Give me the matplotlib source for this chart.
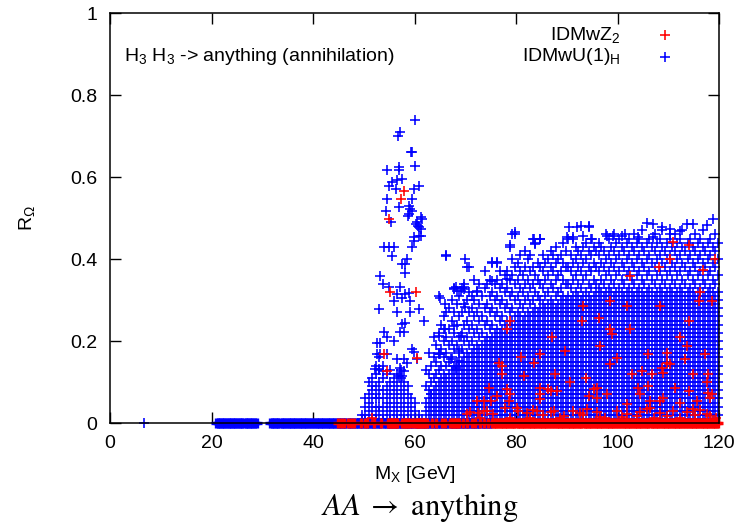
import numpy as np
import matplotlib
matplotlib.use("Agg")
import matplotlib.pyplot as plt

plt.rcParams['font.family'] = ['Liberation Sans', 'DejaVu Sans']
plt.rcParams['mathtext.fontset'] = 'custom'
plt.rcParams['mathtext.rm'] = 'Liberation Sans'
plt.rcParams['mathtext.it'] = 'Liberation Sans:italic'
plt.rcParams['mathtext.sf'] = 'Liberation Sans'

# ---------------- data ----------------
# masses (GeV) of blue points lying at R = 0
blue_zero_x = [
    20.9, 21.2, 21.4, 21.7, 22.0, 22.3, 22.5, 22.8, 23.1, 23.4, 23.6, 23.9, 24.2, 24.5, 24.7,
    25.0, 25.3, 25.6, 25.8, 26.1, 26.4, 26.7, 26.9, 27.2, 27.5, 27.8, 28.0, 28.3, 28.6, 28.9,
    31.6, 31.9, 32.1, 32.4, 32.7, 33.0, 33.2, 33.5, 33.8, 34.1, 34.3, 34.6, 34.9, 35.2, 35.4,
    35.7, 36.0, 36.3, 36.5, 36.8, 37.1, 37.4, 37.6, 37.9, 38.2, 38.5, 38.7, 39.0, 39.3, 39.6,
    39.8, 40.1, 40.4, 40.7, 40.9, 41.2, 41.5, 41.8, 42.0, 42.3, 42.6, 42.9, 43.1, 43.4, 43.7,
    44.0, 44.2, 44.5, 44.8, 45.1, 45.3, 45.6, 45.9, 46.2, 46.4, 46.7, 47.0, 47.3, 47.5, 47.8,
    48.1, 48.4, 48.6, 48.9, 49.2, 49.5, 49.7, 50.0, 50.3, 50.6, 50.8, 51.1, 51.4, 51.7, 51.9,
    52.2, 52.5, 52.8, 53.0, 53.3, 53.6, 53.9, 54.1, 54.4, 54.7, 55.0, 55.2, 55.5, 55.8, 56.1,
    56.3, 56.6, 56.9, 57.2, 57.4, 57.7, 58.0, 58.3, 58.5, 58.8, 59.1, 59.4, 59.6, 59.9, 60.2,
    60.5, 60.7, 61.0, 61.3, 61.6, 61.8, 62.1, 62.4, 62.7, 62.9, 63.2, 63.5, 63.8, 64.0, 64.3,
    64.6, 64.9, 65.1, 65.4, 65.7, 66.0, 66.2, 66.5, 66.8, 67.1, 67.3, 67.6, 67.9, 68.2, 68.4,
    68.7, 69.0, 69.3, 69.5, 69.8, 70.1, 70.4, 70.6, 70.9, 71.2, 71.5, 71.7, 72.0, 72.3, 72.6,
    72.8, 73.1, 73.4, 73.7, 73.9, 74.2, 74.5, 74.8, 75.0,
]
blue_single_x = [6.7]

# masses (GeV) of red points lying at R = 0
red_zero_x = [
    44.9, 45.5, 46.2, 46.8, 47.5, 48.1, 49.5, 50.3, 50.7, 52.0, 53.4,
    54.7, 55.0, 55.3, 55.5, 55.8, 56.1, 56.4, 56.6, 57.6, 57.9, 58.2, 58.5, 58.8, 59.1,
    59.8, 60.1, 60.4, 60.6, 60.9, 61.2, 61.5, 61.8, 62.1, 62.4, 63.5, 64.2, 65.5, 66.1,
    67.0, 67.3, 67.6, 67.9, 68.2, 68.5, 68.8, 69.6, 70.4, 71.3, 72.0, 72.9, 73.7, 74.5,
    75.3, 75.6, 75.9, 76.1, 76.4, 76.7, 77.0, 77.2, 77.5, 77.8, 78.1, 78.3, 78.6, 78.9, 79.2,
    79.4, 79.7, 80.0, 80.3, 80.5, 80.8, 81.1, 81.4, 81.6, 81.9, 82.2, 82.5, 82.7, 83.0, 83.3,
    83.6, 83.8, 84.1, 84.4, 84.7, 84.9, 85.2, 85.5, 85.8, 86.0, 86.3, 86.6, 86.9, 87.1, 87.4,
    87.7, 88.0, 88.2, 88.5, 88.8, 89.1, 89.3, 89.6, 89.9, 90.2, 90.4, 90.7, 91.0, 91.3, 91.5,
    91.8, 92.1, 92.4, 92.6, 92.9, 93.2, 93.5, 93.7, 94.0, 94.3, 94.6, 94.8, 95.1, 95.4, 95.7,
    95.9, 96.2, 96.5, 96.8, 97.0, 97.3, 97.6, 97.9, 98.1, 98.4, 98.7, 99.0, 99.2, 99.5, 99.8,
    100.1, 100.3, 100.6, 100.9, 101.2, 101.4, 101.7, 102.0, 102.3, 102.5, 102.8, 103.1, 103.4,
    103.6, 103.9, 104.2, 104.5, 104.7, 105.0, 105.3, 105.6, 105.8, 106.1, 106.4, 106.7, 106.9,
    107.2, 107.5, 107.8, 108.0, 108.3, 108.6, 108.9, 109.1, 109.4, 109.7, 110.0, 110.2, 110.5,
    110.8, 111.1, 111.3, 111.6, 111.9, 112.2, 112.4, 112.7, 113.0, 113.3, 113.5, 113.8, 114.1,
    114.4, 114.6, 114.9, 115.2, 115.5, 115.7, 116.0, 116.3, 116.6, 116.8, 117.1, 117.4, 117.7,
    117.9, 118.2, 118.5, 118.8, 119.0, 119.3, 119.6, 119.9,
]

# blue scan columns: mass (GeV) and R values in units of 0.01
blue_col_x = [
    49.6, 50.3, 51.0, 51.7, 52.4, 53.1, 53.8, 54.5, 55.2, 55.9, 56.6, 57.3, 58.0, 58.7, 59.4,
    60.1, 60.8, 61.5,
    62.3, 62.8, 63.3, 63.8, 64.3, 64.8, 65.3, 65.8, 66.3, 66.8, 67.3, 67.8, 68.3, 68.8, 69.3,
    69.8, 70.3, 70.8, 71.3, 71.8, 72.3, 72.8, 73.3, 73.8, 74.3, 74.8, 75.3, 75.8, 76.3, 76.8,
    77.3, 77.8, 78.3, 78.8, 79.3, 79.8, 80.3, 80.8, 81.3, 81.8, 82.3, 82.8, 83.3, 83.8, 84.3,
    84.8, 85.3, 85.8, 86.3, 86.8, 87.3, 87.8, 88.3, 88.8, 89.3, 89.8, 90.3, 90.8, 91.3, 91.8,
    92.3, 92.8, 93.3, 93.8, 94.3, 94.8, 95.3, 95.8, 96.3, 96.8, 97.3, 97.8, 98.3, 98.8, 99.3,
    99.8, 100.3, 100.8, 101.3, 101.8, 102.3, 102.8, 103.3, 103.8, 104.3, 104.8, 105.3, 105.8,
    106.3, 106.8, 107.3, 107.8, 108.3, 108.8, 109.3, 109.8, 110.3, 110.8, 111.3, 111.8, 112.3,
    112.8, 113.3, 113.8, 114.3, 114.8, 115.3, 115.8, 116.3, 116.8, 117.3, 117.8, 118.3, 118.8,
    119.3, 119.8,
]
blue_col_r = [
    # 49.6 - 61.5 (base of the resonance peak)
    [1, 2], [1, 2, 4, 6], [1, 3, 5, 7, 10], [1, 2, 4, 6, 8, 9, 11], [1, 2, 4, 6, 7, 9, 12, 14],
    [1, 3, 4, 6, 8, 10, 13, 16], [1, 2, 4, 6, 8, 11, 14], [1, 3, 5, 7, 9, 12], [1, 2, 4, 6, 8, 10, 13],
    [1, 3, 5, 7, 9, 11], [1, 2, 4, 6, 8, 10, 12], [1, 3, 5, 7, 9, 11, 13], [1, 2, 4, 6, 8, 10],
    [1, 3, 5, 7, 9], [1, 2, 4, 6], [1, 3, 5], [1, 2], [1],
    # 62.3 - 79.8
    [1, 3, 5, 9, 13], [2, 4, 6, 8, 12, 17], [1, 3, 5, 7, 10, 14], [2, 4, 6, 8, 11, 16, 21],
    [1, 3, 5, 7, 9, 12, 15, 19], [2, 4, 6, 8, 10, 13, 17, 22, 31], [1, 3, 5, 7, 9, 11, 14, 18, 24],
    [2, 4, 6, 8, 10, 12, 16, 20, 26], [1, 3, 5, 7, 9, 11, 14, 17, 21, 27, 41],
    [2, 4, 6, 8, 10, 12, 15, 19, 23, 28], [1, 3, 5, 7, 9, 11, 13, 16, 20, 25, 30],
    [2, 4, 6, 8, 10, 12, 14, 18, 22, 27, 33], [1, 3, 5, 7, 9, 11, 13, 15, 19, 24, 29],
    [2, 4, 6, 8, 10, 12, 14, 17, 21, 26, 31], [1, 3, 5, 7, 9, 11, 13, 15, 18, 22, 27, 33],
    [2, 4, 6, 8, 10, 12, 14, 16, 20, 24, 29, 34], [1, 3, 5, 7, 9, 11, 13, 15, 17, 21, 25, 30, 38],
    [2, 4, 6, 8, 10, 12, 14, 16, 19, 23, 27, 32], [1, 3, 5, 7, 9, 11, 13, 15, 17, 20, 24, 28, 31],
    [2, 4, 6, 8, 10, 12, 14, 16, 18, 22, 26, 30, 35], [1, 3, 5, 7, 9, 11, 13, 15, 17, 19, 23, 27, 32],
    [2, 4, 6, 8, 10, 12, 14, 16, 18, 21, 25, 29, 34], [1, 3, 5, 7, 9, 11, 13, 15, 17, 19, 22, 26, 31],
    [2, 4, 6, 8, 10, 12, 14, 16, 18, 20, 24, 28, 33, 37],
    [1, 3, 5, 7, 9, 11, 13, 15, 17, 19, 21, 25, 29, 34],
    [2, 4, 6, 8, 10, 12, 14, 16, 18, 20, 23, 27, 31, 35],
    [1, 3, 5, 7, 9, 11, 13, 15, 17, 19, 21, 24, 28, 32, 39],
    [2, 4, 6, 8, 10, 12, 14, 16, 18, 20, 22, 26, 30, 34],
    [1, 3, 5, 7, 9, 11, 13, 15, 17, 19, 21, 23, 27, 31, 35, 39],
    [2, 4, 6, 8, 10, 12, 14, 16, 18, 20, 22, 25, 29, 33, 37],
    [1, 3, 5, 7, 9, 11, 13, 15, 17, 19, 21, 23, 26, 30, 34],
    [2, 4, 6, 8, 10, 12, 14, 16, 18, 20, 22, 24, 28, 32, 36],
    [1, 3, 5, 7, 9, 11, 13, 15, 17, 19, 21, 23, 25, 29, 33, 37],
    [2, 4, 6, 8, 10, 12, 14, 16, 18, 20, 22, 24, 27, 31, 35, 43],
    [1, 3, 5, 7, 9, 11, 13, 15, 17, 19, 21, 23, 25, 28, 32, 36, 40],
    [2, 4, 6, 8, 10, 12, 14, 16, 18, 20, 22, 24, 26, 30, 34, 38, 46],
    # 80.3 - 99.8
    [1, 3, 5, 7, 9, 11, 13, 15, 17, 19, 21, 23, 25, 27, 31, 35, 39],
    [2, 4, 6, 8, 10, 12, 14, 16, 18, 20, 22, 24, 26, 29, 33, 37, 41],
    [1, 3, 5, 7, 9, 11, 13, 15, 17, 19, 21, 23, 25, 28, 32, 36],
    [2, 4, 6, 8, 10, 12, 14, 16, 18, 20, 22, 24, 26, 30, 34, 38, 42],
    [1, 3, 5, 7, 9, 11, 13, 15, 17, 19, 21, 23, 25, 27, 31, 35, 40],
    [2, 4, 6, 8, 10, 12, 14, 16, 18, 20, 22, 24, 26, 29, 33, 37, 41],
    [1, 3, 5, 7, 9, 11, 13, 15, 17, 19, 21, 23, 25, 27, 30, 34, 38, 45],
    [2, 4, 6, 8, 10, 12, 14, 16, 18, 20, 22, 24, 26, 28, 32, 36, 44],
    [1, 3, 5, 7, 9, 11, 13, 15, 17, 19, 21, 23, 25, 27, 31, 35, 39],
    [2, 4, 6, 8, 10, 12, 14, 16, 18, 20, 22, 24, 26, 28, 30, 34, 38, 45],
    [1, 3, 5, 7, 9, 11, 13, 15, 17, 19, 21, 23, 25, 27, 29, 33, 37, 41],
    [2, 4, 6, 8, 10, 12, 14, 16, 18, 20, 22, 24, 26, 28, 31, 35, 39],
    [1, 3, 5, 7, 9, 11, 13, 15, 17, 19, 21, 23, 25, 27, 29, 32, 36, 40],
    [2, 4, 6, 8, 10, 12, 14, 16, 18, 20, 22, 24, 26, 28, 30, 34, 38, 42],
    [1, 3, 5, 7, 9, 11, 13, 15, 17, 19, 21, 23, 25, 27, 29, 33, 37, 41],
    [2, 4, 6, 8, 10, 12, 14, 16, 18, 20, 22, 24, 26, 28, 31, 35, 39, 43],
    [1, 3, 5, 7, 9, 11, 13, 15, 17, 19, 21, 23, 25, 27, 29, 32, 36, 40],
    [2, 4, 6, 8, 10, 12, 14, 16, 18, 20, 22, 24, 26, 28, 30, 33, 37, 41],
    [1, 3, 5, 7, 9, 11, 13, 15, 17, 19, 21, 23, 25, 27, 29, 31, 35, 39, 44],
    [2, 4, 6, 8, 10, 12, 14, 16, 18, 20, 22, 24, 26, 28, 30, 34, 38, 42],
    [1, 3, 5, 7, 9, 11, 13, 15, 17, 19, 21, 23, 25, 27, 29, 31, 34, 38, 45],
    [2, 4, 6, 8, 10, 12, 14, 16, 18, 20, 22, 24, 26, 28, 30, 33, 37, 41],
    [1, 3, 5, 7, 9, 11, 13, 15, 17, 19, 21, 23, 25, 27, 29, 31, 35, 39, 45],
    [2, 4, 6, 8, 10, 12, 14, 16, 18, 20, 22, 24, 26, 28, 30, 32, 36, 40, 43],
    [1, 3, 5, 7, 9, 11, 13, 15, 17, 19, 21, 23, 25, 27, 29, 31, 34, 38, 42],
    [2, 4, 6, 8, 10, 12, 14, 16, 18, 20, 22, 24, 26, 28, 30, 33, 37, 41, 48],
    [1, 3, 5, 7, 9, 11, 13, 15, 17, 19, 21, 23, 25, 27, 29, 31, 35, 39, 43],
    [2, 4, 6, 8, 10, 12, 14, 16, 18, 20, 22, 24, 26, 28, 30, 32, 36, 40, 44],
    [1, 3, 5, 7, 9, 11, 13, 15, 17, 19, 21, 23, 25, 27, 29, 31, 34, 38, 42, 48],
    [2, 4, 6, 8, 10, 12, 14, 16, 18, 20, 22, 24, 26, 28, 30, 33, 37, 41, 45],
    [1, 3, 5, 7, 9, 11, 13, 15, 17, 19, 21, 23, 25, 27, 29, 31, 35, 39, 43],
    [2, 4, 6, 8, 10, 12, 14, 16, 18, 20, 22, 24, 26, 28, 30, 32, 34, 38, 42],
    [1, 3, 5, 7, 9, 11, 13, 15, 17, 19, 21, 23, 25, 27, 29, 31, 33, 37, 41, 44],
    [2, 4, 6, 8, 10, 12, 14, 16, 18, 20, 22, 24, 26, 28, 30, 32, 35, 39, 43],
    [1, 3, 5, 7, 9, 11, 13, 15, 17, 19, 21, 23, 25, 27, 29, 31, 34, 38, 42],
    [2, 4, 6, 8, 10, 12, 14, 16, 18, 20, 22, 24, 26, 28, 30, 32, 36, 40, 46],
    [1, 3, 5, 7, 9, 11, 13, 15, 17, 19, 21, 23, 25, 27, 29, 31, 33, 37, 41, 45],
    [2, 4, 6, 8, 10, 12, 14, 16, 18, 20, 22, 24, 26, 28, 30, 32, 35, 39, 43],
    [1, 3, 5, 7, 9, 11, 13, 15, 17, 19, 21, 23, 25, 27, 29, 31, 34, 38, 42, 46],
    [2, 4, 6, 8, 10, 12, 14, 16, 18, 20, 22, 24, 26, 28, 30, 32, 36, 40, 44],
    # 100.3 - 119.8
    [1, 3, 5, 7, 9, 11, 13, 15, 17, 19, 21, 23, 25, 27, 29, 31, 33, 37, 41, 45],
    [2, 4, 6, 8, 10, 12, 14, 16, 18, 20, 22, 24, 26, 28, 30, 32, 35, 39, 43],
    [1, 3, 5, 7, 9, 11, 13, 15, 17, 19, 21, 23, 25, 27, 29, 31, 34, 38, 42],
    [2, 4, 6, 8, 10, 12, 14, 16, 18, 20, 22, 24, 26, 28, 30, 32, 36, 40, 44],
    [1, 3, 5, 7, 9, 11, 13, 15, 17, 19, 21, 23, 25, 27, 29, 31, 33, 37, 41, 45],
    [2, 4, 6, 8, 10, 12, 14, 16, 18, 20, 22, 24, 26, 28, 30, 32, 35, 39, 43],
    [1, 3, 5, 7, 9, 11, 13, 15, 17, 19, 21, 23, 25, 27, 29, 31, 34, 38, 42, 46],
    [2, 4, 6, 8, 10, 12, 14, 16, 18, 20, 22, 24, 26, 28, 30, 32, 36, 40, 44],
    [1, 3, 5, 7, 9, 11, 13, 15, 17, 19, 21, 23, 25, 27, 29, 31, 33, 37, 41, 45],
    [2, 4, 6, 8, 10, 12, 14, 16, 18, 20, 22, 24, 26, 28, 30, 32, 35, 39, 43, 47],
    [1, 3, 5, 7, 9, 11, 13, 15, 17, 19, 21, 23, 25, 27, 29, 31, 34, 38, 42],
    [2, 4, 6, 8, 10, 12, 14, 16, 18, 20, 22, 24, 26, 28, 30, 32, 36, 40, 44],
    [1, 3, 5, 7, 9, 11, 13, 15, 17, 19, 21, 23, 25, 27, 29, 31, 33, 37, 41, 45],
    [2, 4, 6, 8, 10, 12, 14, 16, 18, 20, 22, 24, 26, 28, 30, 32, 35, 39, 43],
    [1, 3, 5, 7, 9, 11, 13, 15, 17, 19, 21, 23, 25, 27, 29, 31, 34, 38, 42, 46],
    [2, 4, 6, 8, 10, 12, 14, 16, 18, 20, 22, 24, 26, 28, 30, 32, 36, 40, 44],
    [1, 3, 5, 7, 9, 11, 13, 15, 17, 19, 21, 23, 25, 27, 29, 31, 33, 37, 41, 45],
    [2, 4, 6, 8, 10, 12, 14, 16, 18, 20, 22, 24, 26, 28, 30, 32, 35, 39, 43, 47],
    [1, 3, 5, 7, 9, 11, 13, 15, 17, 19, 21, 23, 25, 27, 29, 31, 34, 38, 42],
    [2, 4, 6, 8, 10, 12, 14, 16, 18, 20, 22, 24, 26, 28, 30, 32, 36, 40, 44],
    [1, 3, 5, 7, 9, 11, 13, 15, 17, 19, 21, 23, 25, 27, 29, 31, 33, 37, 41, 45],
    [2, 4, 6, 8, 10, 12, 14, 16, 18, 20, 22, 24, 26, 28, 30, 32, 35, 39, 43],
    [1, 3, 5, 7, 9, 11, 13, 15, 17, 19, 21, 23, 25, 27, 29, 31, 34, 38, 42, 46],
    [2, 4, 6, 8, 10, 12, 14, 16, 18, 20, 22, 24, 26, 28, 30, 32, 36, 40, 44],
    [1, 3, 5, 7, 9, 11, 13, 15, 17, 19, 21, 23, 25, 27, 29, 31, 33, 37, 41, 45],
    [2, 4, 6, 8, 10, 12, 14, 16, 18, 20, 22, 24, 26, 28, 30, 32, 35, 39, 43, 47],
    [1, 3, 5, 7, 9, 11, 13, 15, 17, 19, 21, 23, 25, 27, 29, 31, 34, 38, 42],
    [2, 4, 6, 8, 10, 12, 14, 16, 18, 20, 22, 24, 26, 28, 30, 32, 36, 40, 44],
    [1, 3, 5, 7, 9, 11, 13, 15, 17, 19, 21, 23, 25, 27, 29, 31, 33, 37, 41, 45],
    [2, 4, 6, 8, 10, 12, 14, 16, 18, 20, 22, 24, 26, 28, 30, 32, 35, 39, 43],
    [1, 3, 5, 7, 9, 11, 13, 15, 17, 19, 21, 23, 25, 27, 29, 31, 34, 38, 42, 46],
    [2, 4, 6, 8, 10, 12, 14, 16, 18, 20, 22, 24, 26, 28, 30, 32, 36, 40, 44],
    [1, 3, 5, 7, 9, 11, 13, 15, 17, 19, 21, 23, 25, 27, 29, 31, 33, 37, 41, 45],
    [2, 4, 6, 8, 10, 12, 14, 16, 18, 20, 22, 24, 26, 28, 30, 32, 35, 39, 43, 47],
    [1, 3, 5, 7, 9, 11, 13, 15, 17, 19, 21, 23, 25, 27, 29, 31, 34, 38, 42],
    [2, 4, 6, 8, 10, 12, 14, 16, 18, 20, 22, 24, 26, 28, 30, 32, 36, 40, 44],
    [1, 3, 5, 7, 9, 11, 13, 15, 17, 19, 21, 23, 25, 27, 29, 31, 33, 37, 41, 45],
    [2, 4, 6, 8, 10, 12, 14, 16, 18, 20, 22, 24, 26, 28, 30, 32, 35, 39, 43],
    [1, 3, 5, 7, 9, 11, 13, 15, 17, 19, 21, 23, 25, 27, 29, 31, 34, 38, 42, 46],
    [2, 4, 6, 8, 10, 12, 14, 16, 18, 20, 22, 24, 26, 28, 30, 32, 36, 40, 44],
]

# isolated blue points (mass GeV, R)
blue_pts_x = [
    60.0, 57.1, 56.8, 59.3, 59.6, 60.0, 54.6, 56.9, 56.9, 55.6, 56.6, 57.6, 55.0, 56.3, 60.9,
    59.9, 54.6, 59.5, 56.9, 54.3, 59.2, 58.9, 59.5, 61.2, 61.5, 55.3, 60.2, 60.9, 61.2, 59.9,
    60.9, 61.2, 59.5, 59.9, 54.0, 55.0, 55.9, 55.6, 58.6, 57.6, 58.2, 58.2, 53.3, 53.7, 55.0,
    57.2, 58.2, 56.6, 57.6, 58.9, 59.2, 55.9, 53.0, 60.9, 56.6, 59.2, 61.8, 58.2, 57.6, 57.2,
    57.9, 54.0, 54.6, 55.9, 52.7, 53.3, 59.5, 59.9, 52.7, 53.3, 54.6, 56.6, 57.9, 58.6, 60.5,
    52.3, 53.0, 53.7, 57.2, 57.9, 56.9, 57.6, 59.0, 58.7, 60.5, 60.7,
    79.2, 79.9, 78.9, 83.5, 84.8, 83.8, 90.4, 92.0, 94.3, 90.0, 91.3, 93.3, 95.0, 97.9, 99.2,
    100.8, 101.5, 105.8, 107.0, 108.7, 110.4, 112.3, 113.6, 114.9, 117.6, 118.9, 104.1, 107.0,
    110.4, 75.3, 76.3, 75.3, 78.2, 72.3, 70.0, 70.7, 66.3, 65.1, 66.1, 67.7, 69.7, 70.0, 66.1,
    67.7, 65.1, 68.7, 68.4, 69.1, 69.1, 64.8, 64.8, 67.1, 68.7, 68.1, 68.1, 69.7, 65.8, 63.2,
]
blue_pts_y = [
    0.738, 0.710, 0.700, 0.660, 0.660, 0.628, 0.616, 0.624, 0.616, 0.589, 0.592, 0.596, 0.577,
    0.571, 0.577, 0.571, 0.547, 0.547, 0.526, 0.518, 0.522, 0.510, 0.518, 0.502, 0.498, 0.490,
    0.486, 0.478, 0.473, 0.453, 0.457, 0.457, 0.429, 0.445, 0.429, 0.429, 0.429, 0.408, 0.400,
    0.388, 0.388, 0.367, 0.359, 0.339, 0.331, 0.331, 0.315, 0.315, 0.306, 0.318, 0.298, 0.298,
    0.278, 0.278, 0.270, 0.270, 0.249, 0.245, 0.241, 0.221, 0.221, 0.221, 0.209, 0.200, 0.196,
    0.196, 0.180, 0.172, 0.168, 0.168, 0.168, 0.156, 0.156, 0.147, 0.156, 0.131, 0.131, 0.127,
    0.135, 0.127, 0.115, 0.115, 0.530, 0.505, 0.490, 0.480,
    0.461, 0.465, 0.433, 0.449, 0.449, 0.437, 0.478, 0.478, 0.478, 0.453, 0.453, 0.457, 0.449,
    0.457, 0.457, 0.457, 0.461, 0.487, 0.486, 0.478, 0.473, 0.469, 0.486, 0.486, 0.482, 0.498,
    0.453, 0.453, 0.461, 0.392, 0.392, 0.347, 0.351, 0.323, 0.400, 0.380, 0.408, 0.306, 0.290,
    0.327, 0.327, 0.282, 0.229, 0.237, 0.168, 0.176, 0.323, 0.323, 0.213, 0.213, 0.168, 0.156,
    0.152, 0.135, 0.331, 0.331, 0.229, 0.070,
]

# red (IDMwZ2) points above zero (mass GeV, R)
red_pts_x = [
    111.0, 114.0, 110.4, 108.1, 116.9, 119.2, 102.5, 116.3, 118.6, 116.0, 98.6, 101.8, 108.4,
    93.3, 93.0, 96.3, 98.6, 98.9, 102.5, 114.0, 78.2, 78.9, 87.1, 96.6, 89.7, 112.3, 113.6,
    106.1, 109.7, 117.3, 80.9, 84.8, 83.5, 76.6, 77.2, 98.6, 99.9, 113.3, 109.7, 87.7, 93.7,
    90.7, 81.5, 77.2, 102.8, 104.8, 106.8, 108.7, 110.4, 109.0, 114.9, 117.9, 117.6, 74.6,
    78.2, 78.9, 84.8, 86.8, 84.8, 86.4, 88.1, 73.6, 75.0, 72.3, 76.3, 78.6, 84.8, 95.3, 96.0,
    97.9, 96.0, 104.1, 106.4, 109.0, 104.5, 106.1, 111.4, 114.0, 115.6, 118.2, 117.9, 94.3,
    101.8, 108.4, 112.3, 118.6, 106.4,
    71.0, 72.6, 73.6, 75.5, 80.3, 82.2, 83.4, 85.4, 86.8, 91.3, 92.7, 94.0, 96.0, 99.9, 101.9,
    104.5, 105.8, 108.4, 111.0, 113.7, 114.9, 117.6, 93.3, 96.6, 103.9, 109.8, 112.3, 115.3,
    116.3, 118.2, 70.4, 73.0, 74.3, 77.9, 80.2, 84.1, 87.4, 89.5, 97.5, 100.8, 107.2, 119.5,
    78.8, 82.8, 88.6,
    58.0, 57.4, 55.0, 55.1, 60.2, 60.4, 54.0, 54.6, 51.7,
]
red_pts_y = [
    0.441, 0.433, 0.400, 0.380, 0.372, 0.400, 0.359, 0.319, 0.298, 0.298, 0.298, 0.286, 0.286,
    0.286, 0.249, 0.255, 0.229, 0.217, 0.229, 0.249, 0.229, 0.249, 0.209, 0.188, 0.176, 0.209,
    0.188, 0.168, 0.170, 0.168, 0.160, 0.168, 0.147, 0.147, 0.139, 0.143, 0.158, 0.156, 0.147,
    0.119, 0.109, 0.099, 0.115, 0.119, 0.119, 0.127, 0.119, 0.135, 0.143, 0.123, 0.119, 0.119,
    0.099, 0.086, 0.082, 0.070, 0.070, 0.078, 0.086, 0.082, 0.078, 0.054, 0.054, 0.054, 0.066,
    0.054, 0.058, 0.082, 0.062, 0.070, 0.086, 0.086, 0.054, 0.062, 0.070, 0.090, 0.086, 0.078,
    0.054, 0.062, 0.074, 0.066, 0.046, 0.054, 0.050, 0.070, 0.037,
    0.028, 0.025, 0.030, 0.022, 0.030, 0.025, 0.032, 0.020, 0.028, 0.030, 0.024, 0.033, 0.026,
    0.030, 0.022, 0.028, 0.033, 0.024, 0.030, 0.026, 0.034, 0.022, 0.020, 0.015, 0.018, 0.016,
    0.012, 0.020, 0.031, 0.017, 0.021, 0.013, 0.029, 0.037, 0.037, 0.029, 0.029, 0.018, 0.012,
    0.014, 0.012, 0.012, 0.012, 0.013, 0.011,
    0.567, 0.547, 0.498, 0.319, 0.319, 0.158, 0.168, 0.127, 0.012,
]

x_ticks = [0, 20, 40, 60, 80, 100, 120]
y_ticks = [0, 0.2, 0.4, 0.6, 0.8, 1.0]
y_ticklabels = ['0', '0.2', '0.4', '0.6', '0.8', '1']
label_z2 = r'IDMwZ$_2$'
label_u1 = r'IDMwU(1)$_\mathrm{H}$'

# ---------------- assemble ----------------
col_x = np.concatenate([np.full(len(r), x) for x, r in zip(blue_col_x, blue_col_r)])
col_y = np.concatenate([np.array(r) / 100.0 for r in blue_col_r])
bx = np.concatenate([col_x, np.array(blue_pts_x), np.array(blue_single_x)])
by = np.concatenate([col_y, np.array(blue_pts_y), np.zeros(len(blue_single_x))])
bzx = np.array(blue_zero_x)
bzy = np.zeros(len(bzx))
rzx = np.array(red_zero_x)
rzy = np.zeros(len(rzx))
rx = np.array(red_pts_x)
ry = np.array(red_pts_y)

BLUE = '#0000ff'
RED = '#ff0000'

fig = plt.figure(figsize=(7.42, 5.24), dpi=100)
ax = fig.add_axes([110 / 742, (524 - 423) / 524, (719 - 110) / 742, (423 - 13) / 524])

ms = 6.8
mw = 1.15
ax.plot(bzx, bzy, ls='none', marker='+', ms=ms, mew=2.4, color=BLUE, clip_on=False, zorder=3)
ax.plot(bx, by, ls='none', marker='+', ms=ms, mew=mw, color=BLUE, clip_on=False, zorder=3)
ax.plot(rzx, rzy, ls='none', marker='+', ms=ms, mew=2.4, color=RED, clip_on=False, zorder=4)
ax.plot(rx, ry, ls='none', marker='+', ms=ms, mew=mw, color=RED, clip_on=False, zorder=4)

ax.set_xlim(0, 120)
ax.set_ylim(0, 1)
ax.set_xticks(x_ticks)
ax.set_xticklabels([str(t) for t in x_ticks])
ax.set_yticks(y_ticks)
ax.set_yticklabels(y_ticklabels)
ax.tick_params(direction='in', length=8, width=1.0, top=True, right=True,
               labelsize=14, pad=9, colors='black')
for s in ax.spines.values():
    s.set_linewidth(1.1)
    s.set_zorder(6)

ax.set_xlabel(r'M$_\mathrm{X}$ [GeV]', fontsize=14, labelpad=8)
ax.set_ylabel(r'R$_\Omega$', fontsize=14, labelpad=24)

# key drawn gnuplot style
ax.text(0.838, 0.946, label_z2, transform=ax.transAxes, ha='right', va='center', fontsize=14)
ax.text(0.838, 0.893, label_u1, transform=ax.transAxes, ha='right', va='center', fontsize=14)
ax.plot([0.911], [0.946], transform=ax.transAxes, ls='none', marker='+', ms=ms, mew=mw,
        color=RED, clip_on=False)
ax.plot([0.911], [0.893], transform=ax.transAxes, ls='none', marker='+', ms=ms, mew=mw,
        color=BLUE, clip_on=False)

ax.text(0.023, 0.893, r'H$_3$ H$_3$ -> anything (annihilation)', transform=ax.transAxes,
        ha='left', va='center', fontsize=14)

fig.text(0.566, 0.030, r'$AA\;\rightarrow$ anything', ha='center', va='center',
         fontsize=22, family=['STIXGeneral', 'Liberation Serif'], math_fontfamily='stix')

fig.savefig('out.png', dpi=100)
